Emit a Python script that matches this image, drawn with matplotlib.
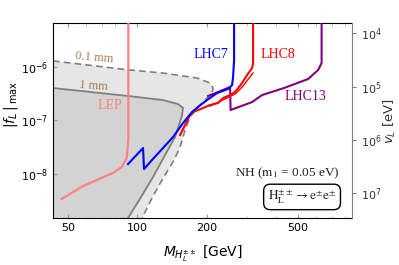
import numpy as np
import matplotlib
matplotlib.use("Agg")
import matplotlib.pyplot as plt
from matplotlib.ticker import LogLocator, NullFormatter, NullLocator

# ---------------- data ----------------
# 0.1 mm decay-length contour (dashed), light shaded region below it
mm01_m = [43.0, 92.9, 129.3, 181.8, 207.1, 213.4, 211.3, 200.9, 181.8, 169.5,
          161.2, 153.4, 144.4, 128.0, 115.8, 104.8, 101.0]
mm01_f = [1.30e-6, 8.79e-7, 7.71e-7, 6.22e-7, 5.01e-7, 4.04e-7, 3.25e-7, 2.62e-7,
          1.70e-7, 1.15e-7, 6.58e-8, 3.16e-8, 1.80e-8, 7.59e-9, 3.48e-9, 1.47e-9, 1.04e-9]

# 1 mm decay-length contour (solid gray), darker shaded region below it
mm1_m = [43.0, 91.1, 129.3, 150.3, 158.0, 156.5, 151.8, 145.8, 132.0, 117.0,
         103.8, 91.1, 86.7]
mm1_f = [4.04e-7, 2.86e-7, 2.40e-7, 2.02e-7, 1.70e-7, 1.26e-7, 8.16e-8, 4.86e-8,
         2.23e-8, 8.63e-9, 3.64e-9, 1.47e-9, 1.04e-9]

# LEP
lep_m = [46.9, 58.1, 66.6, 78.4, 85.5, 89.9, 91.4, 91.4]
lep_f = [3.34e-9, 5.85e-9, 7.59e-9, 1.03e-8, 1.33e-8, 1.96e-8, 4.27e-8, 1e-5]

# LHC7
lhc7_m = [91.1, 105.9, 106.9, 115.8, 143.0, 158.0, 172.9, 183.6, 200.9, 222.1,
          247.9, 258.1, 260.7, 263.3, 263.3]
lhc7_f = [1.51e-8, 3.02e-8, 1.22e-8, 1.80e-8, 4.86e-8, 8.90e-8, 1.43e-7, 1.78e-7,
          2.40e-7, 3.25e-7, 3.87e-7, 4.59e-7, 6.49e-7, 1.35e-6, 1e-5]

# LHC8 (two close edges)
lhc8_m = [153.4, 161.2, 169.5, 174.7, 193.1, 207.1, 224.3, 235.8, 253.0, 265.9,
          285.3, 299.9, 315.3, 318.5, 318.5]
lhc8_f = [5.30e-8, 8.16e-8, 1.26e-7, 1.43e-7, 1.70e-7, 1.94e-7, 2.11e-7, 2.62e-7,
          2.98e-7, 3.40e-7, 5.01e-7, 7.08e-7, 9.58e-7, 1.19e-6, 1e-5]
lhc8b_m = [207.1, 240.6, 265.9, 288.2, 306.0, 318.5]
lhc8b_f = [1.86e-7, 2.52e-7, 3.11e-7, 4.40e-7, 6.22e-7, 7.71e-7]

# LHC13
lhc13_m = [203.0, 224.3, 253.0, 254.3, 315.3, 348.5, 434.3, 552.3, 610.5, 632.3, 632.3]
lhc13_f = [2.86e-7, 3.40e-7, 4.21e-7, 1.56e-7, 2.20e-7, 2.98e-7, 4.04e-7, 5.96e-7,
           8.79e-7, 1.19e-6, 1e-5]

xticks = [50, 100, 200, 500]
xticklabels = ["50", "100", "200", "500"]
yticks = [1e-8, 1e-7, 1e-6]
vticks = [1e4, 1e5, 1e6, 1e7]
vL_conv = 0.0427   # v_L [eV] = vL_conv / |f_L|max

xlim = (43.0, 857.0)
ylim = (1.47e-9, 6.7e-6)

# ---------------- figure ----------------
fig = plt.figure(figsize=(3.99, 2.65), dpi=100)
ax = fig.add_axes([53/399, 1-218/265, 299/399, 195/265])
ax.set_xscale("log")
ax.set_yscale("log")
ax.set_xlim(*xlim)
ax.set_ylim(*ylim)

light = "#e6e6e6"
dark = "#d3d3d3"
lowx, lowy = xlim[0] * 0.5, ylim[0] * 0.1

poly_x = [lowx] + mm01_m + [mm01_m[-1], lowx]
poly_y = [mm01_f[0]] + mm01_f + [lowy, lowy]
ax.fill(poly_x, poly_y, color=light, lw=0, zorder=1)
poly_x = [lowx] + mm1_m + [mm1_m[-1], lowx]
poly_y = [mm1_f[0]] + mm1_f + [lowy, lowy]
ax.fill(poly_x, poly_y, color=dark, lw=0, zorder=1)

ax.plot(mm01_m, mm01_f, color="#808080", lw=1.2, ls=(0, (4, 2.5)), zorder=2)
ax.plot(mm1_m, mm1_f, color="#808080", lw=1.3, zorder=2)

ax.plot(lep_m, lep_f, color="#ff8080", lw=1.6, zorder=3)
ax.plot(lhc13_m, lhc13_f, color="#800080", lw=1.5, zorder=3)
ax.plot(lhc8_m, lhc8_f, color="#ff0000", lw=1.5, zorder=4)
ax.plot(lhc8b_m, lhc8b_f, color="#ff0000", lw=1.0, zorder=4)
ax.plot(lhc7_m, lhc7_f, color="#0000ff", lw=1.5, zorder=5)

# ---------------- ticks ----------------
ax.set_xticks(xticks)
ax.set_xticklabels(xticklabels)
ax.xaxis.set_minor_locator(LogLocator(base=10, subs=np.arange(2, 10)))
ax.xaxis.set_minor_formatter(NullFormatter())
ax.set_yticks(yticks)
ax.yaxis.set_minor_locator(NullLocator())
ax.tick_params(axis="both", which="major", labelsize=8, direction="in",
               length=3, color="#999999", top=True)
ax.tick_params(axis="x", which="minor", direction="in", length=1.8,
               color="#bbbbbb", top=True)

ax2 = ax.twinx()
ax2.set_yscale("log")
ax2.set_ylim(vL_conv / ylim[0], vL_conv / ylim[1])
ax2.set_yticks(vticks)
ax2.yaxis.set_minor_locator(NullLocator())
ax2.tick_params(axis="y", which="major", labelsize=8, direction="out",
                length=3, color="#808080", labelcolor="#333333")
ax2.spines["right"].set_color("#808080")
for s in ["top", "left", "bottom"]:
    ax2.spines[s].set_visible(False)
ax.spines["right"].set_visible(False)

ax.set_xlabel(r"$M_{H_L^{\pm\pm}}$ [GeV]", fontsize=10)
ax.xaxis.set_label_coords(0.5, -0.13)
ax.set_ylabel(r"$|f_L\,|_{\,\rm max}$", fontsize=10)
ax.yaxis.set_label_coords(-0.11, 0.58)
ax2.set_ylabel(r"$v_L$ [eV]", fontsize=9.5, color="#333333")
ax2.yaxis.set_label_coords(1.10, 0.5)

# ---------------- annotations ----------------
serif = "Liberation Serif"
brown = "#a57c52"
ax.text(0.137, 0.821, "0.1 mm", transform=ax.transAxes, fontsize=9,
        family=serif, color=brown, rotation=-5, ha="center", va="center", zorder=6)
ax.text(0.137, 0.677, "1 mm", transform=ax.transAxes, fontsize=9,
        family=serif, color=brown, rotation=-4, ha="center", va="center", zorder=6)
ax.text(0.191, 0.579, "LEP", transform=ax.transAxes, fontsize=10,
        family=serif, color="#ff8080", ha="center", va="center", zorder=6)
ax.text(0.528, 0.836, "LHC7", transform=ax.transAxes, fontsize=10,
        family=serif, color="#0000ff", ha="center", va="center", zorder=6)
ax.text(0.753, 0.836, "LHC8", transform=ax.transAxes, fontsize=10,
        family=serif, color="#ff0000", ha="center", va="center", zorder=6)
ax.text(0.843, 0.621, "LHC13", transform=ax.transAxes, fontsize=10,
        family=serif, color="#800080", ha="center", va="center", zorder=6)
ax.text(0.960, 0.231, r"NH ($\mathrm{m_1}$ = 0.05 eV)", transform=ax.transAxes,
        fontsize=9.5, family=serif, math_fontfamily="stix", color="#222222",
        ha="right", va="center", zorder=6)
ax.text(0.833, 0.108, r"$\mathrm{H_L^{\pm\pm}\rightarrow e^{\pm}e^{\pm}}$",
        transform=ax.transAxes, fontsize=9.5, family=serif, math_fontfamily="stix",
        color="#222222", ha="center", va="center", zorder=6,
        bbox=dict(boxstyle="round,pad=0.3,rounding_size=0.5", fc="white",
                  ec="black", lw=1.0))

fig.savefig("out.png", dpi=100)
